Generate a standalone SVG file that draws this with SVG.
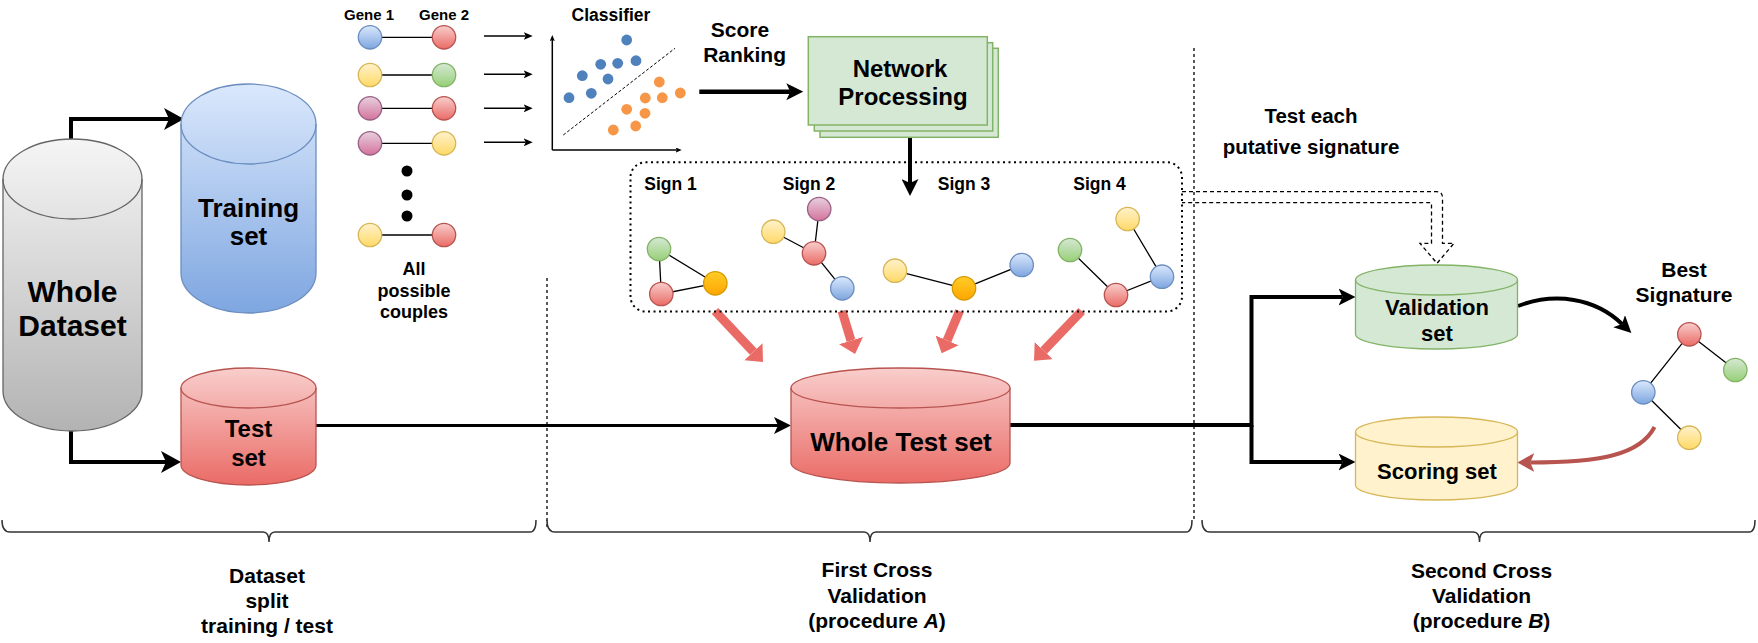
<svg xmlns="http://www.w3.org/2000/svg" width="1758" height="643" viewBox="0 0 1758 643">
<style>
.t{font-family:"Liberation Sans",Arial,Helvetica,sans-serif;font-weight:bold;text-anchor:middle;fill:#000}
.n{stroke-width:1.3}
.e{stroke:#000;stroke-width:1.3;fill:none}
.k{stroke:#000;fill:none}
.dash{stroke:#000;stroke-width:1.3;fill:none;stroke-dasharray:3 3}
.brace{stroke:#333;stroke-width:1.5;fill:none}
.blk{fill:#ea6b66;stroke:none}
</style>
<defs>
<linearGradient id="gB" x1="0" y1="0" x2="0" y2="1"><stop offset="0" stop-color="#dae8fc"/><stop offset="1" stop-color="#7ea6e0"/></linearGradient>
<linearGradient id="gR" x1="0" y1="0" x2="0" y2="1"><stop offset="0" stop-color="#f8cecc"/><stop offset="1" stop-color="#ea6b66"/></linearGradient>
<linearGradient id="gY" x1="0" y1="0" x2="0" y2="1"><stop offset="0" stop-color="#fff2cc"/><stop offset="1" stop-color="#ffd966"/></linearGradient>
<linearGradient id="gG" x1="0" y1="0" x2="0" y2="1"><stop offset="0" stop-color="#d5e8d4"/><stop offset="1" stop-color="#97d077"/></linearGradient>
<linearGradient id="gP" x1="0" y1="0" x2="0" y2="1"><stop offset="0" stop-color="#e6d0de"/><stop offset="1" stop-color="#d5739d"/></linearGradient>
<linearGradient id="gO" x1="0" y1="0" x2="0" y2="1"><stop offset="0" stop-color="#ffcd28"/><stop offset="1" stop-color="#ffa500"/></linearGradient>
<linearGradient id="gK" x1="0" y1="0" x2="0" y2="1"><stop offset="0" stop-color="#f5f5f5"/><stop offset="1" stop-color="#b3b3b3"/></linearGradient>
<marker id="aBig" markerUnits="userSpaceOnUse" markerWidth="20" markerHeight="22" refX="5" refY="11" orient="auto" viewBox="0 0 20 22"><path d="M0,0 L20,11 L0,22 L5,11 Z" fill="#000"/></marker>
<marker id="aMid" markerUnits="userSpaceOnUse" markerWidth="17" markerHeight="17" refX="4" refY="8.5" orient="auto" viewBox="0 0 17 17"><path d="M0,0 L17,8.5 L0,17 L4,8.5 Z" fill="#000"/></marker>
<marker id="aRed" markerUnits="userSpaceOnUse" markerWidth="17" markerHeight="19" refX="4" refY="9.5" orient="auto" viewBox="0 0 17 19"><path d="M0,0 L17,9.5 L0,19 L4,9.5 Z" fill="#b85450"/></marker>
<marker id="aSm" markerUnits="userSpaceOnUse" markerWidth="9" markerHeight="8" refX="2" refY="4" orient="auto" viewBox="0 0 9 8"><path d="M0,0 L9,4 L0,8 L2,4 Z" fill="#000"/></marker>
<marker id="aTiny" markerUnits="userSpaceOnUse" markerWidth="6" markerHeight="5" refX="1" refY="2.5" orient="auto" viewBox="0 0 6 5"><path d="M0,0 L6,2.5 L0,5 L1,2.5 Z" fill="#000"/></marker>
<marker id="aBlock" markerUnits="userSpaceOnUse" markerWidth="14" markerHeight="25" refX="0" refY="12.5" orient="auto" viewBox="0 0 14 25"><path d="M0,0 L14,12.5 L0,25 Z" fill="#ea6b66"/></marker>
</defs>

<g id="connectors">
  <!-- dataset split -->
  <path class="k" stroke-width="4" d="M71,139 V119 H169" marker-end="url(#aBig)"/>
  <path class="k" stroke-width="4" d="M71,431 V462 H166" marker-end="url(#aBig)"/>
  <path class="k" stroke-width="3" d="M316,425.5 H778" marker-end="url(#aMid)"/>
  <path class="k" stroke-width="4" d="M1010,425 H1251.5 V297 H1342.5" marker-end="url(#aMid)"/>
  <path class="k" stroke-width="4" d="M1251.5,425 V462 H1342.5" marker-end="url(#aMid)"/>
  <!-- classifier to network -->
  <path class="k" stroke-width="4.5" d="M699.3,91.7 H790.3" marker-end="url(#aMid)"/>
  <path class="k" stroke-width="4" d="M910,137.3 V183" marker-end="url(#aMid)"/>
  <!-- best signature curves -->
  <path class="k" stroke-width="4" d="M1518,306 C1555,292 1595,298 1622,324" marker-end="url(#aMid)"/>
  <path fill="none" stroke="#b85450" stroke-width="4" d="M1654.5,427 C1640,455 1600,462.5 1530.3,462.5" marker-end="url(#aRed)"/>
  <!-- gene couples to classifier -->
  <path class="k" stroke-width="1.5" d="M484,36 H525.7" marker-end="url(#aSm)"/>
  <path class="k" stroke-width="1.5" d="M484,74.3 H525.7" marker-end="url(#aSm)"/>
  <path class="k" stroke-width="1.5" d="M484,108.3 H525.7" marker-end="url(#aSm)"/>
  <path class="k" stroke-width="1.5" d="M484,142.3 H525.7" marker-end="url(#aSm)"/>
  <!-- gene edges -->
  <path class="e" d="M370,37.3 H444 M370,75 H444 M370,108.3 H444 M370,143.3 H444 M370,235 H444"/>
  <!-- signature edges -->
  <path class="e" d="M659,249 L661.3,294 M659,249 L715.3,283.3 M661.3,294 L715.3,283.3"/>
  <path class="e" d="M819.2,209 L814,253.3 M773.3,231.7 L814,253.3 M814,253.3 L842.3,288.3"/>
  <path class="e" d="M895,270.7 L964,288.3 M964,288.3 L1021.7,265"/>
  <path class="e" d="M1070,250 L1116,295 M1116,295 L1162,276.7 M1127.7,219 L1162,276.7"/>
  <path class="e" d="M1689.3,334.3 L1735.3,370 M1689.3,334.3 L1643.3,392.3 M1643.3,392.3 L1689.3,437.7"/>
  <!-- red block arrows -->
  <path stroke="#ea6b66" stroke-width="9" fill="none" d="M715,311 L753.4,351.8" marker-end="url(#aBlock)"/>
  <path stroke="#ea6b66" stroke-width="9" fill="none" d="M842,311 L851,340.6" marker-end="url(#aBlock)"/>
  <path stroke="#ea6b66" stroke-width="9" fill="none" d="M959.5,311 L947.1,340.4" marker-end="url(#aBlock)"/>
  <path stroke="#ea6b66" stroke-width="9" fill="none" d="M1081.7,311 L1043.7,350.6" marker-end="url(#aBlock)"/>
  <!-- dashed hollow arrow to validation -->
  <path fill="none" stroke="#000" stroke-width="1.3" stroke-dasharray="4 3" d="M1182,191.7 H1436.5 Q1442.5,191.7 1442.5,197.7 V243.3 H1454 L1437,263.3 L1420,243.3 H1431.5 V202.7 H1182"/>
</g>

<g id="separators">
  <line class="dash" x1="547" y1="278" x2="547" y2="530"/>
  <line class="dash" x1="1194" y1="48" x2="1194" y2="522"/>
</g>

<g id="whole-dataset">
  <path fill="url(#gK)" stroke="#666" stroke-width="1.3" d="M3,179 A69.5,40 0 0 1 142,179 L142,391 A69.5,40 0 0 1 3,391 Z"/>
  <path fill="none" stroke="#666" stroke-width="1.3" d="M3,179 A69.5,40 0 0 0 142,179"/>
  <text class="t" font-size="30" x="72.5" y="302">Whole</text>
  <text class="t" font-size="30" x="72.5" y="336">Dataset</text>
</g>

<g id="training-set">
  <path fill="url(#gB)" stroke="#6c8ebf" stroke-width="1.3" d="M181,124 A67.5,40 0 0 1 316,124 L316,273 A67.5,40 0 0 1 181,273 Z"/>
  <path fill="none" stroke="#6c8ebf" stroke-width="1.3" d="M181,124 A67.5,40 0 0 0 316,124"/>
  <text class="t" font-size="26" x="248.5" y="217">Training</text>
  <text class="t" font-size="26" x="248.5" y="245">set</text>
</g>

<g id="test-set">
  <path fill="url(#gR)" stroke="#b85450" stroke-width="1.3" d="M181,388 A67.5,20 0 0 1 316,388 L316,465 A67.5,20 0 0 1 181,465 Z"/>
  <path fill="none" stroke="#b85450" stroke-width="1.3" d="M181,388 A67.5,20 0 0 0 316,388"/>
  <text class="t" font-size="24" x="248.5" y="437">Test</text>
  <text class="t" font-size="24" x="248.5" y="466">set</text>
</g>

<g id="gene-couples">
  <text class="t" font-size="15" x="369" y="20">Gene 1</text>
  <text class="t" font-size="15" x="444" y="20">Gene 2</text>
  <circle class="n" cx="370" cy="37.3" r="11.7" fill="url(#gB)" stroke="#6c8ebf"/>
  <circle class="n" cx="444" cy="37.3" r="11.7" fill="url(#gR)" stroke="#b85450"/>
  <circle class="n" cx="370" cy="75" r="11.7" fill="url(#gY)" stroke="#d6b656"/>
  <circle class="n" cx="444" cy="75" r="11.7" fill="url(#gG)" stroke="#82b366"/>
  <circle class="n" cx="370" cy="108.3" r="11.7" fill="url(#gP)" stroke="#996185"/>
  <circle class="n" cx="444" cy="108.3" r="11.7" fill="url(#gR)" stroke="#b85450"/>
  <circle class="n" cx="370" cy="143.3" r="11.7" fill="url(#gP)" stroke="#996185"/>
  <circle class="n" cx="444" cy="143.3" r="11.7" fill="url(#gY)" stroke="#d6b656"/>
  <circle cx="407" cy="171" r="5.5" fill="#000"/>
  <circle cx="407" cy="195" r="5.5" fill="#000"/>
  <circle cx="407" cy="216" r="5.5" fill="#000"/>
  <circle class="n" cx="370" cy="235" r="11.7" fill="url(#gY)" stroke="#d6b656"/>
  <circle class="n" cx="444" cy="235" r="11.7" fill="url(#gR)" stroke="#b85450"/>
  <text class="t" font-size="18" x="414" y="275">All</text>
  <text class="t" font-size="18" x="414" y="296.7">possible</text>
  <text class="t" font-size="18" x="414" y="318">couples</text>
</g>

<g id="classifier">
  <text class="t" font-size="17.5" x="611" y="21">Classifier</text>
  <path class="k" stroke-width="1.5" d="M552.3,150 V40" marker-end="url(#aTiny)"/>
  <path class="k" stroke-width="1.5" d="M552.3,150 H676.7" marker-end="url(#aTiny)"/>
  <line x1="563.3" y1="135" x2="675" y2="48.3" stroke="#000" stroke-width="1" stroke-dasharray="3 2"/>
  <g fill="#4f81bd">
    <circle cx="626.7" cy="40" r="5.4"/><circle cx="600.7" cy="64.3" r="5.4"/><circle cx="617.7" cy="63.3" r="5.4"/><circle cx="636" cy="60.7" r="5.4"/>
    <circle cx="582.3" cy="75.7" r="5.4"/><circle cx="608" cy="79" r="5.4"/><circle cx="569" cy="97.7" r="5.4"/><circle cx="591.3" cy="93.3" r="5.4"/>
  </g>
  <g fill="#f79646">
    <circle cx="659.3" cy="82" r="5.4"/><circle cx="680.3" cy="93" r="5.4"/><circle cx="645.3" cy="98" r="5.4"/><circle cx="662.3" cy="97.7" r="5.4"/>
    <circle cx="626.7" cy="109.3" r="5.4"/><circle cx="645" cy="113.3" r="5.4"/><circle cx="613.3" cy="130" r="5.4"/><circle cx="635.7" cy="126" r="5.4"/>
  </g>
</g>

<g id="score-ranking">
  <text class="t" font-size="21" x="740" y="37">Score</text>
  <text class="t" font-size="21" x="744.6" y="62">Ranking</text>
</g>

<g id="network-processing">
  <rect x="820" y="48.3" width="178.3" height="89" fill="#d5e8d4" stroke="#82b366" stroke-width="1.5"/>
  <rect x="814.3" y="42.7" width="178.4" height="88.3" fill="#d5e8d4" stroke="#82b366" stroke-width="1.5"/>
  <rect x="808.3" y="36.7" width="179" height="88.3" fill="#d5e8d4" stroke="#82b366" stroke-width="1.5"/>
  <text class="t" font-size="24" x="900" y="76.7">Network</text>
  <text class="t" font-size="24" x="903" y="105">Processing</text>
</g>

<g id="signatures">
  <rect x="630.5" y="162.3" width="551.5" height="149.2" rx="15" ry="15" fill="none" stroke="#000" stroke-width="2" stroke-dasharray="2 3.5"/>
  <text class="t" font-size="17.5" x="670.5" y="190">Sign 1</text>
  <text class="t" font-size="17.5" x="809" y="190">Sign 2</text>
  <text class="t" font-size="17.5" x="964" y="190">Sign 3</text>
  <text class="t" font-size="17.5" x="1099.6" y="190">Sign 4</text>
  <circle class="n" cx="659" cy="249" r="11.7" fill="url(#gG)" stroke="#82b366"/>
  <circle class="n" cx="661.3" cy="294" r="11.7" fill="url(#gR)" stroke="#b85450"/>
  <circle class="n" cx="715.3" cy="283.3" r="11.7" fill="url(#gO)" stroke="#d79b00"/>
  <circle class="n" cx="819.2" cy="209" r="11.7" fill="url(#gP)" stroke="#996185"/>
  <circle class="n" cx="773.3" cy="231.7" r="11.7" fill="url(#gY)" stroke="#d6b656"/>
  <circle class="n" cx="814" cy="253.3" r="11.7" fill="url(#gR)" stroke="#b85450"/>
  <circle class="n" cx="842.3" cy="288.3" r="11.7" fill="url(#gB)" stroke="#6c8ebf"/>
  <circle class="n" cx="895" cy="270.7" r="11.7" fill="url(#gY)" stroke="#d6b656"/>
  <circle class="n" cx="964" cy="288.3" r="11.7" fill="url(#gO)" stroke="#d79b00"/>
  <circle class="n" cx="1021.7" cy="265" r="11.7" fill="url(#gB)" stroke="#6c8ebf"/>
  <circle class="n" cx="1070" cy="250" r="11.7" fill="url(#gG)" stroke="#82b366"/>
  <circle class="n" cx="1127.7" cy="219" r="11.7" fill="url(#gY)" stroke="#d6b656"/>
  <circle class="n" cx="1162" cy="276.7" r="11.7" fill="url(#gB)" stroke="#6c8ebf"/>
  <circle class="n" cx="1116" cy="295" r="11.7" fill="url(#gR)" stroke="#b85450"/>
</g>

<g id="whole-test-set">
  <path fill="url(#gR)" stroke="#b85450" stroke-width="1.3" d="M791,388 A109.5,20 0 0 1 1010,388 L1010,463 A109.5,20 0 0 1 791,463 Z"/>
  <path fill="none" stroke="#b85450" stroke-width="1.3" d="M791,388 A109.5,20 0 0 0 1010,388"/>
  <text class="t" font-size="26" x="901" y="451">Whole Test set</text>
</g>

<g id="test-each-label">
  <text class="t" font-size="20.5" x="1311" y="123.3">Test each</text>
  <text class="t" font-size="20.5" x="1311" y="154">putative signature</text>
</g>

<g id="validation-set">
  <path fill="#d5e8d4" stroke="#82b366" stroke-width="1.3" d="M1355.5,280 A81,15 0 0 1 1517.5,280 L1517.5,334 A81,15 0 0 1 1355.5,334 Z"/>
  <path fill="none" stroke="#82b366" stroke-width="1.3" d="M1355.5,280 A81,15 0 0 0 1517.5,280"/>
  <text class="t" font-size="22" x="1437" y="315">Validation</text>
  <text class="t" font-size="22" x="1437" y="341">set</text>
</g>

<g id="scoring-set">
  <path fill="#fff2cc" stroke="#d6b656" stroke-width="1.3" d="M1355.5,432 A81,15 0 0 1 1517.5,432 L1517.5,485 A81,15 0 0 1 1355.5,485 Z"/>
  <path fill="none" stroke="#d6b656" stroke-width="1.3" d="M1355.5,432 A81,15 0 0 0 1517.5,432"/>
  <text class="t" font-size="22" x="1437" y="479">Scoring set</text>
</g>

<g id="best-signature">
  <text class="t" font-size="21" x="1684" y="277">Best</text>
  <text class="t" font-size="21" x="1684" y="302">Signature</text>
  <circle class="n" cx="1689.3" cy="334.3" r="11.7" fill="url(#gR)" stroke="#b85450"/>
  <circle class="n" cx="1735.3" cy="370" r="11.7" fill="url(#gG)" stroke="#82b366"/>
  <circle class="n" cx="1643.3" cy="392.3" r="11.7" fill="url(#gB)" stroke="#6c8ebf"/>
  <circle class="n" cx="1689.3" cy="437.7" r="11.7" fill="url(#gY)" stroke="#d6b656"/>
</g>

<g id="brace-split">
  <path class="brace" d="M2,520 C2,528 4,532 10,532 L263,532 C267,532 269,535 269,542 C269,535 271,532 275,532 L530,532 C534,532 536,528 536,520"/>
  <text class="t" font-size="21" x="267" y="583">Dataset</text>
  <text class="t" font-size="21" x="267" y="608">split</text>
  <text class="t" font-size="21" x="267" y="633">training / test</text>
</g>

<g id="brace-first">
  <path class="brace" d="M547,520 C547,528 549,532 555,532 L864,532 C868,532 870,535 870,542 C870,535 872,532 876,532 L1186,532 C1190,532 1192,528 1192,520"/>
  <text class="t" font-size="21" x="877" y="577">First Cross</text>
  <text class="t" font-size="21" x="877" y="603">Validation</text>
  <text class="t" font-size="21" x="877" y="628">(procedure <tspan font-style="italic">A</tspan>)</text>
</g>

<g id="brace-second">
  <path class="brace" d="M1202,520 C1202,528 1204,532 1210,532 L1473.5,532 C1477.5,532 1479.5,535 1479.5,542 C1479.5,535 1481.5,532 1485.5,532 L1749,532 C1753,532 1755,528 1755,520"/>
  <text class="t" font-size="21" x="1481.5" y="578">Second Cross</text>
  <text class="t" font-size="21" x="1481.5" y="603">Validation</text>
  <text class="t" font-size="21" x="1481.5" y="628">(procedure <tspan font-style="italic">B</tspan>)</text>
</g>
</svg>
